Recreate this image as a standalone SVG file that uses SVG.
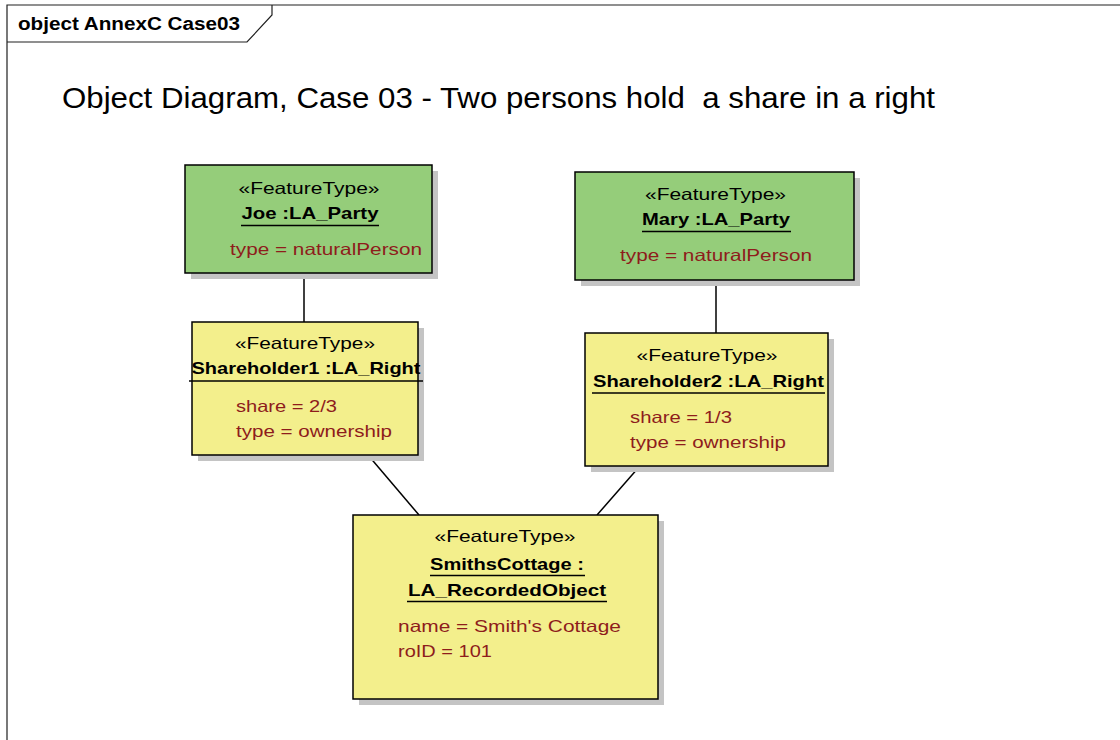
<svg xmlns="http://www.w3.org/2000/svg" width="1120" height="740" viewBox="0 0 1120 740">
  <style>
    .frame { fill: none; stroke: #202020; stroke-width: 1.2; }
    .tab { font-family: "Liberation Sans", Arial, sans-serif; font-size: 17.5px; font-weight: bold; fill: #000; }
    .title { font-family: "Liberation Sans", Arial, sans-serif; font-size: 29px; fill: #000; white-space: pre; }
    .shadow { fill: #c4c4c4; }
    .party { fill: #95cd7a; stroke: #000; stroke-width: 1.5; }
    .right { fill: #f3ef8c; stroke: #000; stroke-width: 1.5; }
    .stereo { font-family: "Liberation Sans", Arial, sans-serif; font-size: 16.5px; fill: #000; text-anchor: middle; }
    .name { font-family: "Liberation Sans", Arial, sans-serif; font-size: 16.5px; font-weight: bold; fill: #000; text-anchor: middle; }
    .attr { font-family: "Liberation Sans", Arial, sans-serif; font-size: 16.5px; fill: #8e1c1c; }
    .ul { stroke: #000; stroke-width: 1.5; }
    .link { stroke: #000; stroke-width: 1.5; fill: none; }
  </style>

  <rect width="1120" height="740" fill="#ffffff"/>

  <!-- diagram frame with name tab -->
  <g id="frame">
    <path class="frame" d="M7,740 V5 H1120"/>
    <path class="frame" d="M7,42 H247 L272,15 V5"/>
    <text class="tab" x="18" y="30" textLength="222" lengthAdjust="spacingAndGlyphs">object AnnexC Case03</text>
  </g>

  <text class="title" xml:space="preserve" x="62" y="108" textLength="873" lengthAdjust="spacingAndGlyphs">Object Diagram, Case 03 - Two persons hold  a share in a right</text>

  <!-- associations -->
  <g id="connectors">
    <line class="link" x1="304" y1="273" x2="304" y2="322"/>
    <line class="link" x1="716" y1="279" x2="716" y2="333"/>
    <line class="link" x1="368" y1="455" x2="419" y2="515"/>
    <line class="link" x1="639" y1="467" x2="597" y2="515"/>
  </g>

  <g id="joe">
    <rect class="shadow" x="191" y="171" width="247" height="108"/>
    <rect class="party" x="185" y="165" width="247" height="108"/>
    <text class="stereo" x="309" y="194" textLength="141" lengthAdjust="spacingAndGlyphs">«FeatureType»</text>
    <text class="name" x="310" y="219" textLength="137" lengthAdjust="spacingAndGlyphs">Joe :LA_Party</text>
    <line class="ul" x1="241" y1="225.5" x2="379" y2="225.5"/>
    <text class="attr" x="230" y="255" textLength="192" lengthAdjust="spacingAndGlyphs">type = naturalPerson</text>
  </g>

  <g id="mary">
    <rect class="shadow" x="581" y="178" width="279" height="108"/>
    <rect class="party" x="575" y="172" width="279" height="108"/>
    <text class="stereo" x="715.5" y="200" textLength="141" lengthAdjust="spacingAndGlyphs">«FeatureType»</text>
    <text class="name" x="716" y="225" textLength="148" lengthAdjust="spacingAndGlyphs">Mary :LA_Party</text>
    <line class="ul" x1="642" y1="231.5" x2="791" y2="231.5"/>
    <text class="attr" x="620" y="261" textLength="192" lengthAdjust="spacingAndGlyphs">type = naturalPerson</text>
  </g>

  <g id="shareholder1">
    <rect class="shadow" x="198" y="328" width="226" height="133"/>
    <rect class="right" x="192" y="322" width="226" height="133"/>
    <text class="stereo" x="305" y="349" textLength="140" lengthAdjust="spacingAndGlyphs">«FeatureType»</text>
    <text class="name" x="306" y="374" textLength="229" lengthAdjust="spacingAndGlyphs">Shareholder1 :LA_Right</text>
    <line class="ul" x1="189" y1="381" x2="423" y2="381"/>
    <text class="attr" x="236" y="411.5" textLength="101" lengthAdjust="spacingAndGlyphs">share = 2/3</text>
    <text class="attr" x="236" y="436.5" textLength="156" lengthAdjust="spacingAndGlyphs">type = ownership</text>
  </g>

  <g id="shareholder2">
    <rect class="shadow" x="591" y="339" width="243" height="133"/>
    <rect class="right" x="585" y="333" width="243" height="133"/>
    <text class="stereo" x="707" y="361" textLength="141" lengthAdjust="spacingAndGlyphs">«FeatureType»</text>
    <text class="name" x="708.5" y="386.5" textLength="231" lengthAdjust="spacingAndGlyphs">Shareholder2 :LA_Right</text>
    <line class="ul" x1="592" y1="393" x2="825" y2="393"/>
    <text class="attr" x="630" y="423" textLength="102" lengthAdjust="spacingAndGlyphs">share = 1/3</text>
    <text class="attr" x="630" y="448" textLength="156" lengthAdjust="spacingAndGlyphs">type = ownership</text>
  </g>

  <g id="smithscottage">
    <rect class="shadow" x="359" y="521" width="305" height="184"/>
    <rect class="right" x="353" y="515" width="305" height="184"/>
    <text class="stereo" x="505" y="541.5" textLength="141" lengthAdjust="spacingAndGlyphs">«FeatureType»</text>
    <text class="name" x="507" y="570" textLength="154" lengthAdjust="spacingAndGlyphs">SmithsCottage :</text>
    <line class="ul" x1="430" y1="575.5" x2="585" y2="575.5"/>
    <text class="name" x="507" y="595.5" textLength="198" lengthAdjust="spacingAndGlyphs">LA_RecordedObject</text>
    <line class="ul" x1="407" y1="601.5" x2="607" y2="601.5"/>
    <text class="attr" x="398" y="631.5" textLength="223" lengthAdjust="spacingAndGlyphs">name = Smith's Cottage</text>
    <text class="attr" x="398" y="656.5" textLength="94" lengthAdjust="spacingAndGlyphs">roID = 101</text>
  </g>
</svg>
